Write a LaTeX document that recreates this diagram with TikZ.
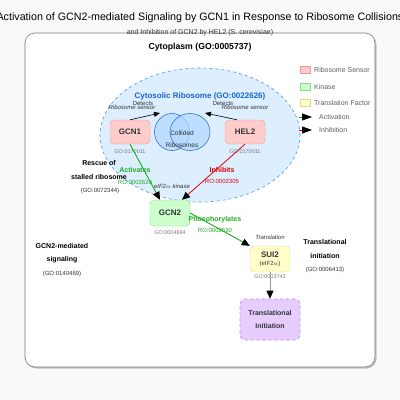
\documentclass[tikz,border=0pt]{standalone}
\usepackage{fontspec}
\setmainfont{Liberation Sans}
\usetikzlibrary{arrows.meta,shapes.geometric}
\definecolor{bgc}{HTML}{F9F9F9}
\definecolor{cytob}{HTML}{777777}
\definecolor{ribofill}{HTML}{DDEEFF}
\definecolor{ribob}{HTML}{4499EE}
\definecolor{ribot}{HTML}{1A66CC}
\definecolor{collfill}{HTML}{B3D9FF}
\definecolor{collb}{HTML}{3377CC}
\definecolor{sensf}{HTML}{FFCCCC}
\definecolor{sensb}{HTML}{EE9999}
\definecolor{kinf}{HTML}{CCFFCC}
\definecolor{kinb}{HTML}{88DD88}
\definecolor{tff}{HTML}{FFFFCC}
\definecolor{tfb}{HTML}{DDDD88}
\definecolor{procf}{HTML}{E6CCFF}
\definecolor{procb}{HTML}{BB88FF}
\definecolor{actc}{HTML}{00AA00}
\definecolor{actt}{HTML}{22AA22}
\definecolor{inhc}{HTML}{DD0000}
\definecolor{txt}{HTML}{333333}
\definecolor{gotxt}{HTML}{777777}
\tikzset{
  genebox/.style={draw, rounded corners=4pt, minimum width=40pt, minimum height=24pt, inner sep=1pt, text=txt, font=\fontsize{8}{9}\selectfont\bfseries},
  sensor/.style={genebox, fill=sensf, draw=sensb},
  kinase/.style={genebox, fill=kinf, draw=kinb, minimum height=26pt},
  tfac/.style={genebox, fill=tff, draw=tfb, minimum height=26pt, align=center},
  golab/.style={text=gotxt, font=\fontsize{5.5}{6}\selectfont, inner sep=0pt},
  small/.style={text=txt, font=\fontsize{6}{7}\selectfont, inner sep=0pt},
  smallit/.style={text=txt, font=\fontsize{6}{7}\selectfont\itshape, inner sep=0pt},
  proclab/.style={text=black, font=\fontsize{7}{13.5}\selectfont\bfseries, align=center, inner sep=0pt},
  gosub/.style={text=txt, font=\fontsize{6}{7}\selectfont, inner sep=0pt},
  tip/.style={-{Triangle[length=8pt,width=7pt,color=black]}},
  actline/.style={tip, draw=actc, line width=0.8pt},
  inhline/.style={tip, draw=inhc, line width=0.8pt},
  detline/.style={-{Triangle[length=6pt,width=5pt,color=black]}, draw=black, line width=0.6pt},
  legbox/.style={minimum width=10pt, minimum height=7pt, inner sep=0pt, draw},
  legtxt/.style={anchor=west, text=gotxt!80!black, font=\fontsize{7}{8}\selectfont, inner sep=0pt},
}
\begin{document}
\begin{tikzpicture}[x=1pt,y=-1pt]
\useasboundingbox (0,0) rectangle (400,400);
\fill[bgc] (0,0) rectangle (400,400);
% cytoplasm
\fill[black!25, rounded corners=10pt] (26.5,34.5) rectangle (376.5,368.5);
\node[draw=cytob, fill=white, rounded corners=10pt, minimum width=350pt, minimum height=334pt, line width=0.6pt] (cyto) at (200,200) {};
\node[text=black, font=\fontsize{10.7}{12}\selectfont] (title) at (200,18) {Activation of GCN2-mediated Signaling by GCN1 in Response to Ribosome Collisions};
\node[text=txt, font=\fontsize{7}{8}\selectfont] (subtitle) at (200,33) {and Inhibition of GCN2 by HEL2 (S. cerevisiae)};
\node[text=black, font=\fontsize{8.7}{10}\selectfont\bfseries] (cytolab) at (200,47) {Cytoplasm (GO:0005737)};
% ribosome compartment
\node[ellipse, draw=ribob, dashed, fill=ribofill, minimum width=200pt, minimum height=134pt, line width=0.6pt] (ribo) at (200,135) {};
\node[text=ribot, font=\fontsize{8}{9}\selectfont\bfseries] (ribolab) at (200,96) {Cytosolic Ribosome (GO:0022626)};
% collided ribosomes
\node[ellipse, draw=collb, fill=collfill, fill opacity=0.75, minimum width=35pt, minimum height=37pt, line width=0.6pt] (c1) at (172,132) {};
\node[ellipse, draw=collb, fill=collfill, fill opacity=0.75, minimum width=40pt, minimum height=37pt, line width=0.6pt] (c2) at (190,132) {};
\node[text=txt, font=\fontsize{6.5}{12}\selectfont, align=center] (coll) at (182,139) {Collided\\Ribosomes};
% sensors
\node[sensor] (gcn1) at (130,132) {GCN1};
\node[golab] (gcn1go) at (130,152) {GO:0170011};
\node[sensor] (hel2) at (245,132) {HEL2};
\node[golab] (hel2go) at (245,152) {GO:0170011};
\coordinate (d1) at (160,113);
\coordinate (d2) at (205,113);
\draw[detline] (gcn1.north) -- (d1);
\draw[detline] ([xshift=-8pt]hel2.north) -- (d2);
\node[small] (det1) at (143,103.5) {Detects};
\node[smallit] (rs1) at (132,107.5) {Ribosome sensor};
\node[small] (det2) at (223,103.5) {Detects};
\node[smallit] (rs2) at (245,107.5) {Ribosome sensor};
% kinase
\node[kinase] (gcn2) at (170,213) {GCN2};
\node[golab] (gcn2go) at (170,233) {GO:0004694};
\node[smallit] (kin) at (172,186) {eIF2$\alpha$ kinase};
% activation / inhibition
\draw[actline] (gcn1.south) -- ([xshift=-10pt]gcn2.north);
\draw[inhline] (hel2.south) -- ([xshift=12pt]gcn2.north);
\node[text=actt, font=\fontsize{7}{8}\selectfont\bfseries, inner sep=0pt] (actl) at (135,170) {Activates};
\node[text=actt, font=\fontsize{6}{7}\selectfont, inner sep=0pt] (actro) at (135,182) {RO:0002629};
\node[text=inhc, font=\fontsize{7}{8}\selectfont\bfseries, inner sep=0pt] (inhl) at (222,170) {Inhibits};
\node[text=inhc, font=\fontsize{6}{7}\selectfont, inner sep=0pt] (inhro) at (222,181) {RO:0002305};
% SUI2
\node[tfac] (sui2) at (270,259) {SUI2\\[-1pt]{\fontsize{6}{7}\selectfont\mdseries (eIF2$\alpha$)}};
\node[golab] (sui2go) at (270,277) {GO:0003743};
\node[smallit] (transl) at (270,237) {Translation};
\draw[actline] (gcn2.east) -- (sui2.north west);
\node[text=actt, font=\fontsize{7}{8}\selectfont\bfseries, inner sep=0pt] (phl) at (215,220) {Phosphorylates};
\node[text=actt, font=\fontsize{6}{7}\selectfont, inner sep=0pt] (phro) at (215,230) {RO:0002630};
% translational initiation
\node[draw=procb, fill=procf, dashed, rounded corners=5pt, minimum width=60pt, minimum height=41pt, line width=0.7pt, text=txt, font=\fontsize{7}{13}\selectfont\bfseries, align=center] (ti) at (270,319.5) {Translational\\Initiation};
\draw[tip, draw=black!40, line width=0.8pt] (sui2.south) -- (ti.north);
% process labels
\node[proclab] (rescue) at (99,170) {Rescue of\\stalled ribosome};
\node[gosub] (rescuego) at (100,191) {(GO:0072344)};
\node[proclab] (sig) at (62,253) {GCN2-mediated\\signaling};
\node[gosub] (siggo) at (62,274) {(GO:0140469)};
\node[proclab] (tin) at (325,249) {Translational\\initiation};
\node[gosub] (tingo) at (325,270) {(GO:0006413)};
% legend
\node[legbox, fill=sensf, draw=sensb] (l1) at (305,70) {};
\node[legtxt] (l1t) at (314,70) {Ribosome Sensor};
\node[legbox, fill=kinf, draw=kinb] (l2) at (305,87) {};
\node[legtxt] (l2t) at (314,87) {Kinase};
\node[legbox, fill=tff, draw=tfb] (l3) at (305,103) {};
\node[legtxt] (l3t) at (314,103) {Translation Factor};
\coordinate (la1) at (299,117);
\coordinate (la2) at (312,117);
\coordinate (li1) at (299,130);
\coordinate (li2) at (312,130);
\draw[-{Triangle[length=10pt,width=7pt,color=black]}, draw=actc, line width=0.8pt] (la1) -- (la2);
\draw[-{Triangle[length=10pt,width=7pt,color=black]}, draw=inhc, line width=0.8pt] (li1) -- (li2);
\node[legtxt] (lat) at (319,117) {Activation};
\node[legtxt] (lit) at (319,130) {Inhibition};
\end{tikzpicture}
\end{document}
